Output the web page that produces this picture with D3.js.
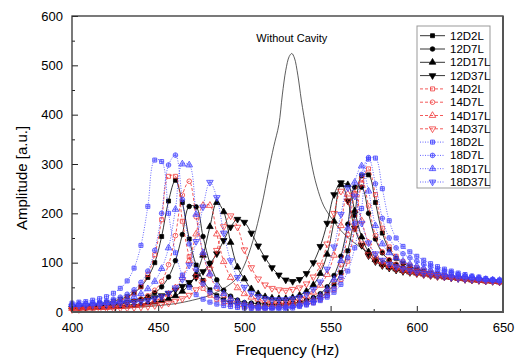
<!DOCTYPE html>
<html>
<head>
<meta charset="utf-8">
<script src="https://cdn.jsdelivr.net/npm/d3@7/dist/d3.min.js"></script>
<style>
	body { margin: 0; background: #fff; }
	text { font-family: Arial, 'Liberation Sans', sans-serif; fill: #000; }
</style>
</head>
<body>
<div id="chart"></div>
<script>
// Frequency grid shared by all cavity series (Hz)
var freq = [400, 404, 408, 412, 416, 420, 424, 428, 432, 436, 440, 444, 448,
	452, 456, 460, 464, 468, 472, 476, 480, 484, 488, 492, 496, 500,
	504, 508, 512, 516, 520, 524, 528, 532, 536, 540, 544, 548, 552,
	556, 560, 564, 568, 572, 576, 580, 584, 588, 592, 596, 600, 604,
	608, 612, 616, 620, 624, 628, 632, 636, 640, 644, 648];

// Amplitudes
var amp12D2L = [12, 13, 14, 15, 17, 19, 22, 26, 31, 39, 51, 70, 100,
	153, 225, 267, 222, 148, 95, 64, 45, 33, 25, 19, 17, 16,
	14, 12, 12, 12, 13, 14, 15, 17, 20, 24, 30, 40, 55,
	80, 124, 196, 276, 278, 222, 160, 127, 109, 99, 92, 87, 83,
	79, 76, 74, 72, 70, 68, 66, 65, 64, 63, 62];
var amp12D7L = [11, 11, 12, 12, 13, 14, 15, 17, 19, 22, 26, 31, 39,
	51, 71, 104, 157, 214, 213, 153, 99, 65, 44, 32, 24, 19,
	18, 17, 16, 15, 16, 16, 18, 20, 24, 29, 37, 51, 74,
	113, 178, 253, 253, 200, 148, 120, 105, 96, 90, 86, 82, 79,
	76, 74, 72, 70, 68, 67, 65, 64, 63, 62, 61];
var amp12D17L = [10, 10, 10, 11, 11, 12, 12, 13, 14, 15, 16, 18, 20,
	23, 27, 33, 42, 55, 77, 115, 173, 222, 203, 141, 91, 67,
	47, 37, 31, 28, 27, 27, 29, 34, 42, 55, 78, 117, 184,
	258, 258, 205, 152, 122, 106, 97, 91, 87, 84, 81, 79, 77,
	75, 73, 71, 70, 68, 67, 65, 64, 63, 62, 61];
var amp12D37L = [8, 9, 10, 11, 12, 14, 15, 17, 19, 21, 23, 26, 29,
	33, 38, 45, 52, 60, 70, 82, 98, 118, 145, 172, 188, 182,
	160, 134, 110, 90, 75, 65, 62, 66, 78, 100, 133, 180, 238,
	262, 225, 170, 135, 114, 102, 94, 89, 85, 82, 80, 78, 76,
	74, 72, 71, 69, 68, 66, 65, 64, 63, 62, 61];
var amp14D2L = [10, 10, 11, 12, 14, 16, 19, 23, 29, 38, 52, 76, 116,
	187, 275, 275, 184, 112, 72, 48, 34, 25, 19, 15, 12, 10,
	9, 8, 8, 9, 10, 11, 12, 14, 16, 19, 25, 33, 45,
	66, 103, 168, 260, 290, 238, 170, 132, 113, 102, 95, 90, 85,
	81, 78, 75, 72, 70, 68, 66, 65, 63, 62, 61];
var amp14D7L = [8, 8, 9, 10, 10, 11, 13, 15, 17, 21, 26, 33, 44,
	62, 96, 155, 237, 265, 193, 118, 74, 48, 34, 25, 19, 15,
	13, 12, 12, 12, 13, 14, 15, 17, 20, 24, 31, 42, 62,
	96, 157, 241, 271, 215, 155, 122, 106, 97, 91, 87, 83, 80,
	77, 75, 73, 71, 69, 67, 66, 64, 63, 62, 61];
var amp14D17L = [7, 7, 8, 8, 9, 9, 10, 11, 12, 14, 16, 19, 23,
	28, 36, 49, 70, 104, 158, 216, 216, 158, 102, 70, 49, 37,
	30, 26, 23, 21, 21, 21, 23, 27, 32, 40, 54, 76, 115,
	175, 239, 238, 185, 140, 115, 102, 94, 89, 85, 82, 79, 77,
	75, 73, 71, 70, 68, 67, 65, 64, 63, 62, 61];
var amp14D37L = [5, 5, 6, 6, 6, 7, 7, 8, 8, 9, 10, 11, 13,
	15, 18, 22, 27, 34, 45, 61, 87, 125, 173, 195, 172, 126,
	90, 67, 55, 48, 45, 44, 46, 49, 57, 71, 95, 138, 200,
	245, 225, 175, 138, 116, 104, 96, 91, 87, 84, 81, 78, 76,
	74, 72, 71, 69, 68, 66, 65, 64, 63, 62, 61];
var amp18D2L = [18, 20, 21, 24, 27, 31, 38, 48, 63, 89, 135, 214, 308,
	305, 200, 120, 75, 50, 35, 26, 20, 16, 13, 11, 9, 8,
	7, 6, 5, 5, 5, 6, 8, 11, 14, 18, 23, 30, 40,
	56, 83, 130, 210, 310, 312, 250, 185, 150, 133, 122, 113, 105,
	98, 92, 87, 83, 79, 76, 73, 71, 68, 66, 65];
var amp18D7L = [15, 16, 17, 19, 20, 22, 26, 30, 36, 45, 60, 83, 125,
	200, 298, 318, 228, 138, 86, 57, 40, 29, 22, 18, 14, 12,
	10, 9, 8, 8, 8, 9, 11, 13, 16, 20, 26, 34, 48,
	70, 110, 180, 279, 313, 260, 190, 150, 130, 118, 110, 103, 97,
	92, 87, 83, 80, 76, 73, 71, 69, 67, 65, 64];
var amp18D17L = [15, 15, 16, 17, 18, 19, 21, 23, 26, 31, 37, 47, 62,
	88, 130, 208, 300, 298, 198, 120, 77, 52, 37, 27, 21, 17,
	14, 12, 11, 11, 12, 12, 13, 16, 20, 25, 33, 46, 66,
	104, 170, 263, 296, 245, 175, 138, 120, 110, 103, 97, 93, 89,
	85, 82, 79, 76, 74, 72, 70, 68, 66, 65, 64];
var amp18D37L = [12, 13, 13, 14, 14, 15, 16, 17, 18, 19, 21, 23, 27,
	31, 38, 49, 66, 95, 143, 213, 263, 232, 160, 104, 70, 50,
	38, 31, 27, 25, 25, 25, 27, 30, 36, 46, 61, 87, 132,
	198, 252, 235, 180, 140, 118, 105, 97, 92, 88, 84, 81, 78,
	76, 74, 72, 70, 68, 67, 66, 65, 64, 63, 62];

// Reference curve without cavity
var bareFreq = [400, 420, 440, 460, 470, 480, 490, 496, 500, 505, 510, 514, 517, 520, 522, 524, 526, 527.5,
	529, 531, 533, 536, 539, 542, 546, 551, 556, 562, 570, 580, 590, 600, 615, 630, 650];
var bareAmp = [4, 6, 10, 17, 24, 34, 52, 70, 95, 145, 215, 285, 335, 380, 440, 490, 518, 524,
	515, 480, 430, 365, 300, 255, 215, 188, 165, 145, 125, 105, 93, 86, 76, 68, 61];

var seriesNames = ['12D2L', '12D7L', '12D17L', '12D37L', '14D2L', '14D7L', '14D17L', '14D37L',
	'18D2L', '18D7L', '18D17L', '18D37L'];
var seriesValues = [amp12D2L, amp12D7L, amp12D17L, amp12D37L, amp14D2L, amp14D7L, amp14D17L, amp14D37L,
	amp18D2L, amp18D7L, amp18D17L, amp18D37L];
var xTicks = [400, 450, 500, 550, 600, 650];
var yTicks = [0, 100, 200, 300, 400, 500, 600];

var svgWidth = 524;
var svgHeight = 363;
var margin = { top: 16, right: 21, bottom: 51, left: 72 };
var width = svgWidth - margin.left - margin.right;
var height = svgHeight - margin.top - margin.bottom;

var svg = d3.select('#chart').append('svg').attr('width', svgWidth).attr('height', svgHeight);
var chartGroup = svg.append('g').attr('transform', `translate(${margin.left}, ${margin.top})`);

var xScale = d3.scaleLinear().domain([400, 650]).range([0, width]);
var yScale = d3.scaleLinear().domain([0, 600]).range([height, 0]);

// group styles: black solid, red dashed hollow, blue dotted crossed
var groupStyle = [
	{ color: '#000000', dash: null, fill: '#000000', cross: false },
	{ color: '#f03030', dash: '3,2', fill: 'none', cross: false },
	{ color: '#3c3cff', dash: '1,1.5', fill: 'rgba(120,120,255,0.25)', cross: true }
];
var shapes = ['square', 'circle', 'up', 'down'];

function drawMarker(g, shape, style, cx, cy) {
	var m = g.append('g').attr('transform', `translate(${cx}, ${cy})`);
	var sym;
	if (shape === 'square') sym = d3.symbol().type(d3.symbolSquare).size(16);
	else if (shape === 'circle') sym = d3.symbol().type(d3.symbolCircle).size(17);
	else sym = d3.symbol().type(d3.symbolTriangle).size(19);
	m.append('path')
		.attr('d', sym())
		.attr('transform', shape === 'down' ? 'rotate(180)' : null)
		.attr('fill', style.fill)
		.attr('stroke', style.color)
		.attr('stroke-width', 0.75);
	if (style.cross) {
		m.append('path')
			.attr('d', 'M-2.2,0H2.2M0,-2.2V2.2')
			.attr('stroke', style.color)
			.attr('stroke-width', 0.6);
	}
}

var line = d3.line()
	.x((d) => xScale(d[0]))
	.y((d) => yScale(d[1]))
	.curve(d3.curveCatmullRom);

// Without cavity curve
chartGroup.append('path')
	.datum(bareFreq.map((f, i) => [f, bareAmp[i]]))
	.attr('d', line)
	.attr('fill', 'none')
	.attr('stroke', '#333')
	.attr('stroke-width', 0.8);

chartGroup.append('text')
	.attr('x', xScale(527.5))
	.attr('y', yScale(548))
	.attr('text-anchor', 'middle')
	.attr('font-size', '11px')
	.text('Without Cavity');

// Cavity series
seriesValues.forEach(function(vals, k) {
	var style = groupStyle[Math.floor(k / 4)];
	var shape = shapes[k % 4];
	var pts = freq.map((f, i) => [f, vals[i]]);
	chartGroup.append('path')
		.datum(pts)
		.attr('d', line)
		.attr('fill', 'none')
		.attr('stroke', style.color)
		.attr('stroke-width', 0.8)
		.attr('stroke-dasharray', style.dash);
	var mg = chartGroup.append('g');
	pts.forEach(function(p) {
		drawMarker(mg, shape, style, xScale(p[0]), yScale(p[1]));
	});
});

// Axes
var bottomAxis = d3.axisBottom(xScale).tickValues(xTicks).tickSize(-6).tickSizeOuter(0).tickPadding(11);
var xAxis = chartGroup.append('g').attr('transform', `translate(0, ${height})`).call(bottomAxis);
var minorX = d3.axisBottom(xScale).tickValues([425, 475, 525, 575, 625]).tickSize(-3).tickFormat('');
chartGroup.append('g').attr('transform', `translate(0, ${height})`).call(minorX);

var leftAxis = d3.axisLeft(yScale).tickValues(yTicks).tickSize(-6).tickSizeOuter(0).tickPadding(9);
var yAxis = chartGroup.append('g').call(leftAxis);
var minorY = d3.axisLeft(yScale).tickValues([50, 150, 250, 350, 450, 550]).tickSize(-3).tickFormat('');
chartGroup.append('g').call(minorY);

chartGroup.selectAll('.domain').remove();
chartGroup.selectAll('.tick line').attr('stroke', '#222').attr('stroke-width', 1);
chartGroup.selectAll('.tick text').attr('font-size', '13px').attr('font-family', 'Arial, Liberation Sans, sans-serif').attr('fill', '#000');

// Frame
chartGroup.append('rect')
	.attr('width', width).attr('height', height)
	.attr('fill', 'none').attr('stroke', '#333').attr('stroke-width', 1.3);
chartGroup.append('path')
	.attr('d', `M0,${height}H${width}V0`)
	.attr('fill', 'none').attr('stroke', '#555').attr('stroke-width', 2);

// Axis titles
svg.append('text')
	.attr('x', margin.left + width / 2)
	.attr('y', 355)
	.attr('text-anchor', 'middle')
	.attr('font-size', '15px')
	.text('Frequency (Hz)');
svg.append('text')
	.attr('transform', 'translate(27, 178) rotate(-90)')
	.attr('text-anchor', 'middle')
	.attr('font-size', '15px')
	.text('Amplitude [a.u.]');

// Legend
var legend = svg.append('g');
legend.append('rect')
	.attr('x', 417).attr('y', 26).attr('width', 73).attr('height', 162)
	.attr('fill', '#fff').attr('stroke', '#999').attr('stroke-width', 1);
seriesNames.forEach(function(name, k) {
	var style = groupStyle[Math.floor(k / 4)];
	var ly = 35.7 + k * 13.3;
	legend.append('line')
		.attr('x1', 420).attr('x2', 445).attr('y1', ly).attr('y2', ly)
		.attr('stroke', style.color).attr('stroke-width', 0.8)
		.attr('stroke-dasharray', style.dash);
	drawMarker(legend, shapes[k % 4], style, 432.5, ly);
	legend.append('text')
		.attr('x', 450).attr('y', ly + 4)
		.attr('font-size', '11.5px')
		.text(name);
});
</script>
</body>
</html>
